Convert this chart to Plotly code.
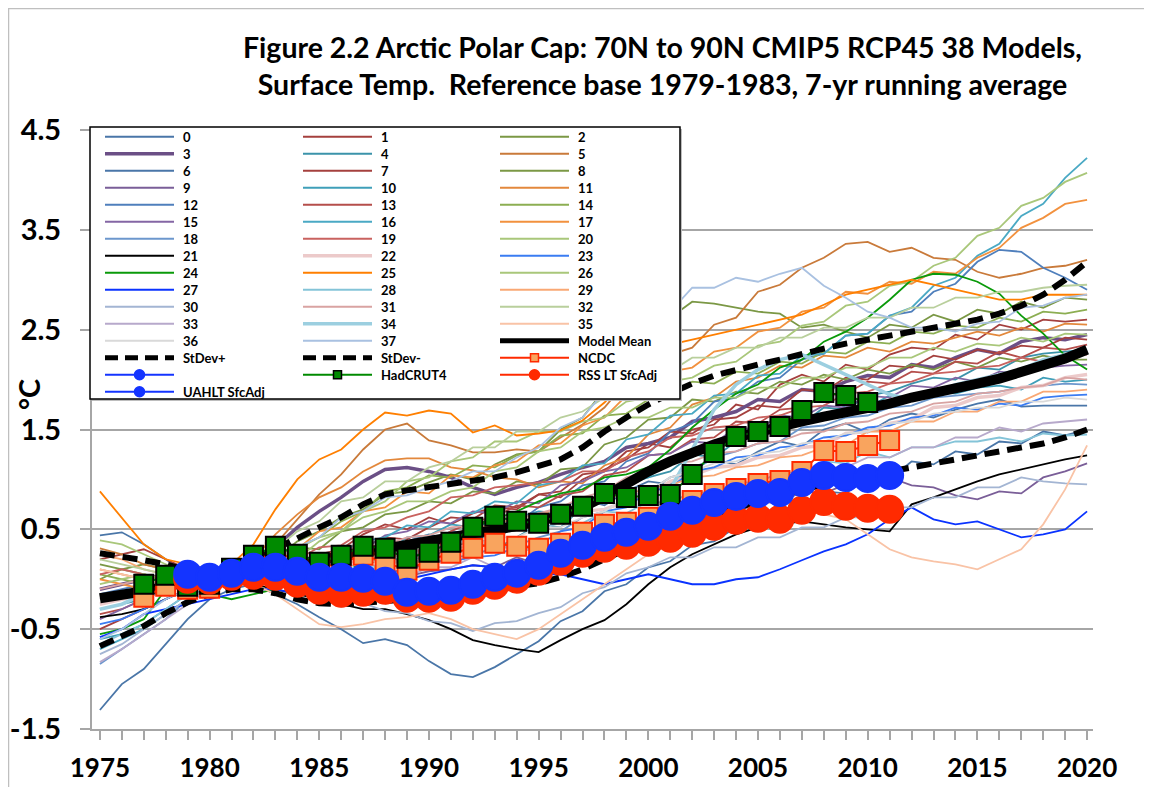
import plotly.graph_objects as go

years = list(range(1975, 2021))

model_names = [str(i) for i in range(38)]
model_colors = [
    '#4a76a8', '#a5403e', '#7b9845', '#6b4f86', '#3b93aa', '#c97a3a',
    '#4a76a8', '#a5403e', '#7b9845', '#7a5e98', '#3f9fb9', '#e3883c',
    '#4f7fbc', '#b54e4b', '#8cae52', '#8466a4', '#4aa9c4', '#f2913e',
    '#6c97cd', '#c9625f', '#a9c77a', '#000000', '#eccaca', '#3a7cf2',
    '#0a9a0a', '#ff7f00', '#a9c77a', '#0a33ff', '#84c4d8', '#f9a874',
    '#a3b5d3', '#d9a3a2', '#b9cf9c', '#b7a9cb', '#9ccfe0', '#f9c3a6',
    '#d9d9d9', '#a9c1e1']
thick_models = [3, 22, 34]

model_00 = [0.44, 0.47, 0.35, 0.2, 0.05, 0.0, -0.05, 0.02, 0.08, 0.12,
            0.1, 0.22, 0.33, 0.25, 0.38, 0.45, 0.4, 0.36, 0.52, 0.6,
            0.55, 0.72, 0.8, 0.74, 0.88, 0.98, 0.95, 1.12, 1.2, 1.15,
            1.28, 1.38, 1.33, 1.5, 1.56, 1.47, 1.6, 1.66, 1.62, 1.7,
            1.76, 1.8, 1.73, 1.74, 1.74, 1.74]
model_01 = [0.2, 0.25, 0.3, 0.2, 0.1, 0.05, 0.0, -0.05, 0.02, 0.15,
            0.25, 0.3, 0.45, 0.55, 0.5, 0.62, 0.55, 0.66, 0.72, 0.7,
            0.85, 0.82, 1.0, 1.1, 1.2, 1.36, 1.32, 1.5, 1.55, 1.75,
            1.7, 1.95, 2.05, 1.98, 2.15, 2.1, 2.25, 2.32, 2.3, 2.45,
            2.4, 2.55, 2.5, 2.6, 2.58, 2.6]
model_02 = [0.0, 0.1, 0.15, 0.1, 0.05, 0.0, -0.05, 0.05, 0.2, 0.38,
            0.48, 0.62, 0.7, 0.85, 0.88, 0.97, 1.05, 1.0, 1.15, 1.25,
            1.28, 1.5, 1.62, 1.9, 2.15, 2.4, 2.62, 2.78, 2.76, 2.72,
            2.68, 2.66, 2.52, 2.55, 2.48, 2.42, 2.55, 2.52, 2.65, 2.58,
            2.7, 2.66, 2.78, 2.72, 2.82, 2.8]
model_03 = [-0.1, -0.05, 0.0, 0.05, 0.05, 0.0, 0.0, 0.12, 0.32, 0.52,
            0.68, 0.82, 0.98, 1.1, 1.12, 1.08, 1.02, 0.92, 0.85, 0.92,
            0.97, 1.05, 1.12, 1.18, 1.32, 1.36, 1.42, 1.58, 1.62, 1.68,
            1.8, 1.78, 1.9, 1.88, 1.98, 2.04, 2.02, 2.15, 2.12, 2.22,
            2.3, 2.26, 2.38, 2.42, 2.4, 2.45]
model_04 = [-0.3, -0.25, -0.2, -0.1, -0.05, 0.0, 0.05, 0.0, -0.05, 0.02,
            0.08, 0.12, 0.05, 0.18, 0.22, 0.2, 0.33, 0.38, 0.3, 0.42,
            0.55, 0.52, 0.72, 0.78, 0.95, 1.02, 1.08, 1.25, 1.22, 1.38,
            1.45, 1.58, 1.55, 1.72, 1.7, 1.84, 1.88, 1.96, 2.02, 2.0,
            2.12, 2.1, 2.22, 2.26, 2.28, 2.3]
model_05 = [0.31, 0.25, 0.15, 0.1, 0.05, 0.0, 0.0, 0.1, 0.35, 0.6,
            0.85, 1.05, 1.3, 1.5, 1.56, 1.39, 1.34, 1.27, 1.27, 1.3,
            1.28, 1.42, 1.55, 1.72, 1.98, 2.08, 2.25, 2.32, 2.55, 2.62,
            2.88, 2.95, 3.12, 3.22, 3.36, 3.38, 3.28, 3.32, 3.22, 3.2,
            3.08, 3.02, 3.06, 3.12, 3.14, 3.2]
model_06 = [-1.31, -1.05, -0.9, -0.65, -0.4, -0.2, -0.1, -0.05, -0.15, -0.25,
            -0.38, -0.5, -0.64, -0.6, -0.66, -0.82, -0.95, -0.98, -0.88, -0.75,
            -0.62, -0.42, -0.32, -0.12, -0.05, 0.12, 0.18, 0.34, 0.38, 0.52,
            0.58, 0.72, 0.7, 0.88, 0.86, 1.02, 1.0, 1.18, 1.15, 1.28,
            1.25, 1.38, 1.36, 1.48, 1.44, 1.5]
model_07 = [-0.5, -0.4, -0.3, -0.2, -0.1, -0.05, 0.0, 0.05, 0.1, 0.18,
            0.15, 0.28, 0.32, 0.42, 0.4, 0.52, 0.62, 0.6, 0.74, 0.72,
            0.85, 0.88, 1.05, 1.08, 1.28, 1.32, 1.48, 1.46, 1.6, 1.62,
            1.74, 1.72, 1.9, 1.88, 2.02, 2.0, 2.14, 2.12, 2.24, 2.2,
            2.3, 2.26, 2.34, 2.32, 2.42, 2.4]
model_08 = [0.15, 0.1, 0.05, 0.0, -0.05, 0.0, 0.05, 0.15, 0.25, 0.32,
            0.3, 0.48, 0.52, 0.65, 0.68, 0.78, 0.76, 0.88, 0.86, 0.98,
            0.95, 1.1, 1.12, 1.35, 1.42, 1.6, 1.62, 1.8, 1.78, 1.88,
            1.86, 1.98, 1.95, 2.05, 2.0, 2.1, 2.06, 2.15, 2.1, 2.18,
            2.12, 2.22, 2.18, 2.24, 2.2, 2.2]
model_09 = [-0.2, -0.15, -0.1, -0.05, 0.0, 0.0, 0.05, 0.05, 0.0, -0.05,
            -0.12, -0.16, -0.08, -0.05, 0.03, 0.08, 0.1, 0.14, 0.12, 0.22,
            0.15, 0.08, 0.18, 0.22, 0.38, 0.42, 0.55, 0.58, 0.68, 0.66,
            0.78, 0.76, 0.88, 0.86, 0.95, 0.92, 1.02, 0.94, 0.92, 0.84,
            0.8, 0.88, 0.86, 1.02, 1.08, 1.16]
model_10 = [-0.6, -0.55, -0.45, -0.3, -0.15, -0.05, 0.0, 0.05, 0.0, 0.08,
            0.12, 0.2, 0.28, 0.26, 0.42, 0.44, 0.55, 0.52, 0.58, 0.62,
            0.68, 0.66, 0.8, 0.82, 1.0, 1.02, 1.2, 1.22, 1.38, 1.42,
            1.55, 1.52, 1.64, 1.62, 1.74, 1.72, 1.84, 1.8, 1.88, 1.86,
            1.92, 1.94, 1.9, 2.02, 1.98, 2.0]
model_11 = [0.1, 0.05, 0.0, -0.05, -0.05, 0.0, 0.05, 0.2, 0.45, 0.65,
            0.82, 0.92, 1.08, 1.19, 1.21, 1.21, 1.12, 1.09, 1.02, 1.0,
            0.92, 0.98, 0.96, 1.14, 1.22, 1.45, 1.52, 1.75, 1.82, 1.98,
            2.02, 2.14, 2.12, 2.24, 2.22, 2.32, 2.28, 2.38, 2.36, 2.42,
            2.48, 2.44, 2.52, 2.48, 2.56, 2.55]
model_12 = [-0.15, -0.1, -0.05, 0.0, 0.0, 0.05, 0.0, -0.05, 0.0, 0.06,
            0.12, 0.14, 0.24, 0.28, 0.38, 0.36, 0.48, 0.46, 0.58, 0.56,
            0.72, 0.78, 0.94, 0.98, 1.18, 1.26, 1.48, 1.56, 1.78, 1.82,
            1.98, 2.02, 2.2, 2.26, 2.44, 2.46, 2.64, 2.68, 2.88, 2.96,
            3.18, 3.3, 3.28, 3.12, 3.02, 2.9]
model_13 = [-0.35, -0.3, -0.2, -0.1, -0.05, 0.0, 0.05, 0.1, 0.05, 0.12,
            0.18, 0.16, 0.28, 0.26, 0.38, 0.36, 0.48, 0.58, 0.62, 0.74,
            0.72, 0.84, 0.88, 1.04, 1.08, 1.24, 1.26, 1.4, 1.42, 1.58,
            1.56, 1.7, 1.72, 1.84, 1.86, 1.98, 1.96, 2.08, 2.06, 2.18,
            2.16, 2.28, 2.22, 2.32, 2.3, 2.35]
model_14 = [0.05, 0.0, -0.05, 0.0, 0.05, 0.05, 0.0, 0.05, 0.15, 0.32,
            0.42, 0.58, 0.68, 0.88, 0.92, 1.04, 1.02, 1.14, 1.12, 1.24,
            1.28, 1.44, 1.46, 1.64, 1.66, 1.8, 1.82, 1.98, 1.96, 2.08,
            2.06, 2.18, 2.16, 2.28, 2.26, 2.38, 2.36, 2.48, 2.46, 2.54,
            2.52, 2.62, 2.58, 2.68, 2.66, 2.7]
model_15 = [-0.4, -0.3, -0.2, -0.1, 0.0, 0.05, 0.0, -0.05, 0.02, 0.12,
            0.18, 0.32, 0.3, 0.44, 0.48, 0.58, 0.56, 0.68, 0.66, 0.78,
            0.76, 0.94, 0.98, 1.08, 1.12, 1.24, 1.26, 1.38, 1.36, 1.52,
            1.5, 1.64, 1.62, 1.74, 1.72, 1.84, 1.82, 1.94, 1.92, 2.02,
            1.98, 2.08, 2.06, 2.12, 2.14, 2.15]
model_16 = [-0.7, -0.6, -0.5, -0.35, -0.2, -0.05, 0.05, 0.0, 0.05, 0.15,
            0.22, 0.28, 0.38, 0.42, 0.54, 0.52, 0.68, 0.66, 0.78, 0.76,
            0.94, 0.98, 1.14, 1.16, 1.4, 1.45, 1.64, 1.66, 1.84, 1.86,
            2.04, 2.06, 2.24, 2.26, 2.44, 2.46, 2.64, 2.72, 2.94, 3.02,
            3.24, 3.36, 3.64, 3.76, 4.02, 4.22]
model_17 = [0.0, -0.05, -0.1, -0.05, 0.0, 0.05, 0.05, 0.1, 0.22, 0.3,
            0.48, 0.52, 0.68, 0.72, 0.88, 0.86, 1.04, 1.02, 1.14, 1.18,
            1.34, 1.36, 1.54, 1.62, 1.84, 1.92, 2.08, 2.12, 2.28, 2.32,
            2.48, 2.52, 2.68, 2.72, 2.88, 2.86, 2.98, 2.96, 3.08, 3.06,
            3.22, 3.32, 3.52, 3.62, 3.76, 3.8]
model_18 = [-0.85, -0.7, -0.55, -0.4, -0.2, -0.1, 0.0, 0.05, 0.1, 0.05,
            0.02, -0.06, 0.02, 0.04, 0.12, 0.14, 0.22, 0.24, 0.32, 0.34,
            0.42, 0.48, 0.62, 0.68, 0.82, 0.88, 1.02, 1.08, 1.22, 1.28,
            1.36, 1.38, 1.52, 1.54, 1.62, 1.64, 1.72, 1.74, 1.82, 1.84,
            1.86, 1.88, 1.92, 1.94, 1.96, 1.95]
model_19 = [0.05, 0.1, 0.05, 0.0, -0.05, 0.0, 0.05, 0.05, 0.12, 0.2,
            0.32, 0.34, 0.48, 0.52, 0.62, 0.68, 0.82, 0.84, 0.92, 0.94,
            0.97, 0.98, 1.08, 1.08, 1.22, 1.28, 1.42, 1.44, 1.52, 1.54,
            1.62, 1.64, 1.72, 1.74, 1.86, 1.88, 1.96, 1.98, 2.06, 2.08,
            2.12, 2.14, 2.22, 2.18, 2.26, 2.25]
model_20 = [0.39, 0.35, 0.25, 0.15, 0.05, 0.0, -0.05, 0.0, 0.12, 0.2,
            0.38, 0.48, 0.68, 0.78, 0.98, 1.02, 1.18, 1.22, 1.38, 1.38,
            1.48, 1.48, 1.58, 1.62, 1.78, 1.82, 1.98, 2.02, 2.14, 2.18,
            2.34, 2.38, 2.54, 2.58, 2.74, 2.78, 2.94, 2.98, 3.14, 3.22,
            3.44, 3.52, 3.74, 3.82, 3.98, 4.07]
model_21 = [-0.38, -0.35, -0.3, -0.2, -0.1, -0.05, 0.0, -0.05, -0.1, -0.15,
            -0.2, -0.25, -0.3, -0.3, -0.35, -0.41, -0.5, -0.61, -0.66, -0.7,
            -0.73, -0.61, -0.5, -0.41, -0.25, -0.05, 0.12, 0.25, 0.35, 0.45,
            0.52, 0.55, 0.58, 0.55, 0.52, 0.5, 0.48, 0.75, 0.82, 0.9,
            0.98, 1.05, 1.1, 1.15, 1.2, 1.24]
model_22 = [-0.25, -0.2, -0.15, -0.1, -0.05, 0.0, 0.0, 0.05, 0.05, 0.1,
            0.12, 0.14, 0.22, 0.2, 0.28, 0.3, 0.38, 0.4, 0.48, 0.5,
            0.58, 0.6, 0.68, 0.7, 0.78, 0.84, 0.98, 1.04, 1.12, 1.14,
            1.22, 1.24, 1.32, 1.34, 1.46, 1.48, 1.56, 1.6, 1.72, 1.74,
            1.82, 1.84, 1.92, 1.94, 2.02, 2.05]
model_23 = [-0.45, -0.4, -0.3, -0.2, -0.1, 0.0, 0.0, 0.05, 0.0, -0.05,
            -0.08, 0.02, 0.04, 0.08, 0.08, 0.18, 0.18, 0.22, 0.24, 0.32,
            0.34, 0.48, 0.52, 0.68, 0.72, 0.88, 0.92, 1.08, 1.12, 1.22,
            1.24, 1.32, 1.34, 1.42, 1.44, 1.52, 1.54, 1.62, 1.64, 1.72,
            1.7, 1.76, 1.74, 1.82, 1.84, 1.85]
model_24 = [-0.55, -0.5, -0.4, -0.1, -0.05, -0.15, -0.2, -0.15, -0.1, -0.02,
            0.05, 0.12, 0.14, 0.22, 0.28, 0.36, 0.4, 0.52, 0.6, 0.68,
            0.78, 0.86, 0.9, 1.02, 1.05, 1.12, 1.3, 1.52, 1.7, 1.86,
            1.95, 2.12, 2.2, 2.38, 2.48, 2.62, 2.8, 3.0, 3.06, 3.05,
            2.98, 2.86, 2.64, 2.46, 2.24, 2.1]
model_25 = [0.88, 0.62, 0.35, 0.2, 0.15, 0.1, 0.15, 0.35, 0.7, 1.0,
            1.2, 1.3, 1.5, 1.67, 1.64, 1.69, 1.66, 1.47, 1.54, 1.44,
            1.46, 1.49, 1.59, 1.77, 2.0, 2.2, 2.35, 2.4, 2.45, 2.5,
            2.55, 2.6, 2.65, 2.75, 2.85, 2.9, 2.95, 3.0, 2.95, 2.9,
            2.85, 2.8, 2.8, 2.85, 2.85, 2.85]
model_26 = [-0.05, 0.0, 0.05, 0.0, -0.05, 0.0, 0.05, 0.1, 0.22, 0.3,
            0.42, 0.48, 0.62, 0.68, 0.78, 0.78, 0.88, 0.92, 1.08, 1.12,
            1.28, 1.32, 1.48, 1.52, 1.62, 1.62, 1.72, 1.72, 1.82, 1.82,
            1.92, 1.92, 2.02, 2.02, 2.12, 2.12, 2.22, 2.22, 2.32, 2.28,
            2.36, 2.34, 2.42, 2.38, 2.46, 2.45]
model_27 = [-0.58, -0.5, -0.35, -0.3, -0.25, -0.2, -0.15, -0.1, -0.1, -0.15,
            -0.12, -0.08, -0.05, -0.05, 0.0, 0.05, 0.1, 0.14, 0.12, 0.1,
            0.05, 0.05, 0.0, -0.05, 0.0, 0.05, 0.0, -0.05, -0.05, 0.0,
            0.02, 0.1, 0.19, 0.28, 0.35, 0.45, 0.6, 0.72, 0.6, 0.55,
            0.58, 0.5, 0.42, 0.45, 0.5, 0.68]
model_28 = [-0.65, -0.55, -0.45, -0.3, -0.15, -0.05, 0.0, 0.05, 0.1, 0.05,
            -0.02, 0.08, 0.08, 0.18, 0.18, 0.32, 0.32, 0.42, 0.42, 0.52,
            0.48, 0.58, 0.56, 0.68, 0.66, 0.78, 0.76, 0.88, 0.86, 0.98,
            0.96, 1.08, 1.06, 1.18, 1.16, 1.28, 1.22, 1.32, 1.32, 1.38,
            1.38, 1.42, 1.38, 1.46, 1.44, 1.45]
model_29 = [0.25, 0.2, 0.1, 0.05, 0.0, -0.05, 0.0, 0.05, 0.1, 0.12,
            0.14, 0.22, 0.24, 0.32, 0.34, 0.42, 0.44, 0.52, 0.54, 0.62,
            0.64, 0.72, 0.74, 0.82, 0.84, 0.92, 0.94, 1.02, 1.04, 1.12,
            1.14, 1.22, 1.24, 1.32, 1.34, 1.48, 1.48, 1.58, 1.58, 1.68,
            1.68, 1.78, 1.78, 1.88, 1.88, 1.9]
model_30 = [-0.75, -0.65, -0.5, -0.35, -0.2, -0.1, 0.0, 0.0, -0.05, -0.12,
            -0.14, -0.22, -0.24, -0.32, -0.34, -0.42, -0.44, -0.52, -0.44, -0.42,
            -0.34, -0.28, -0.14, -0.08, 0.06, 0.12, 0.22, 0.22, 0.32, 0.32,
            0.42, 0.42, 0.52, 0.52, 0.62, 0.62, 0.72, 0.72, 0.82, 0.82,
            0.92, 0.92, 1.02, 0.98, 0.96, 0.95]
model_31 = [-0.1, -0.05, 0.0, 0.0, 0.05, 0.0, -0.05, 0.0, 0.06, 0.1,
            0.16, 0.22, 0.32, 0.34, 0.42, 0.44, 0.52, 0.54, 0.62, 0.6,
            0.66, 0.72, 0.82, 0.88, 1.02, 1.08, 1.16, 1.18, 1.26, 1.28,
            1.36, 1.38, 1.46, 1.48, 1.56, 1.58, 1.66, 1.68, 1.76, 1.78,
            1.86, 1.88, 1.92, 1.94, 2.02, 2.0]
model_32 = [0.2, 0.15, 0.1, 0.05, 0.0, 0.0, 0.05, 0.15, 0.3, 0.48,
            0.58, 0.78, 0.82, 0.98, 0.98, 1.12, 1.18, 1.32, 1.32, 1.48,
            1.48, 1.62, 1.68, 1.82, 1.88, 2.02, 2.08, 2.22, 2.22, 2.32,
            2.32, 2.42, 2.42, 2.52, 2.52, 2.62, 2.62, 2.72, 2.72, 2.82,
            2.82, 2.88, 2.88, 2.92, 2.94, 2.95]
model_33 = [-0.83, -0.7, -0.55, -0.4, -0.25, -0.1, 0.0, 0.05, 0.0, -0.05,
            -0.12, -0.08, -0.08, 0.02, 0.02, 0.12, 0.12, 0.22, 0.12, 0.12,
            0.12, 0.28, 0.32, 0.48, 0.52, 0.68, 0.68, 0.82, 0.82, 0.92,
            0.92, 1.02, 1.02, 1.12, 1.12, 1.22, 1.22, 1.32, 1.32, 1.42,
            1.42, 1.52, 1.48, 1.56, 1.58, 1.6]
model_34 = [-0.3, -0.25, -0.15, -0.1, -0.05, 0.0, 0.05, 0.0, -0.05, 0.0,
            0.05, 0.1, 0.1, 0.15, 0.2, 0.25, 0.35, 0.4, 0.35, 0.3,
            0.3, 0.35, 0.4, 0.45, 0.5, 0.55, 0.9, 1.3, 1.7, 1.95,
            2.1, 2.2, 2.25, 2.15, 2.05, 1.95, 1.85, 1.8, 1.85, 1.95,
            2.0, 2.05, 2.1, 2.2, 2.25, 2.3]
model_35 = [0.1, 0.05, 0.0, -0.05, -0.05, 0.0, 0.0, -0.05, -0.15, -0.3,
            -0.45, -0.48, -0.45, -0.4, -0.38, -0.34, -0.4, -0.5, -0.55, -0.6,
            -0.5, -0.35, -0.2, -0.05, 0.1, 0.25, 0.35, 0.45, 0.5, 0.55,
            0.6, 0.65, 0.7, 0.65, 0.6, 0.45, 0.3, 0.22, 0.18, 0.15,
            0.1, 0.2, 0.3, 0.55, 0.9, 1.34]
model_36 = [-0.2, -0.15, -0.1, -0.05, 0.0, 0.0, 0.05, 0.0, 0.05, 0.05,
            0.12, 0.08, 0.18, 0.18, 0.28, 0.28, 0.32, 0.32, 0.42, 0.42,
            0.52, 0.52, 0.62, 0.68, 0.82, 0.88, 1.02, 1.08, 1.16, 1.18,
            1.26, 1.28, 1.36, 1.38, 1.46, 1.48, 1.56, 1.58, 1.66, 1.68,
            1.72, 1.72, 1.78, 1.78, 1.82, 1.8]
model_37 = [-0.6, -0.5, -0.35, -0.2, -0.1, 0.0, 0.05, 0.1, 0.2, 0.32,
            0.42, 0.62, 0.68, 0.82, 0.84, 0.92, 0.98, 1.08, 1.08, 1.22,
            1.32, 1.52, 1.62, 1.88, 2.08, 2.42, 2.68, 2.92, 2.92, 3.02,
            2.98, 3.06, 3.12, 2.94, 2.82, 2.68, 2.62, 2.52, 2.52, 2.48,
            2.56, 2.58, 2.72, 2.74, 2.82, 2.85]

models = [model_00, model_01, model_02, model_03, model_04, model_05, model_06,
          model_07, model_08, model_09, model_10, model_11, model_12, model_13,
          model_14, model_15, model_16, model_17, model_18, model_19, model_20,
          model_21, model_22, model_23, model_24, model_25, model_26, model_27,
          model_28, model_29, model_30, model_31, model_32, model_33, model_34,
          model_35, model_36, model_37]

model_mean = [-0.19, -0.16, -0.12, -0.07, -0.02, 0.01, 0.04, 0.08, 0.12, 0.16,
              0.19, 0.23, 0.27, 0.31, 0.35, 0.38, 0.42, 0.46, 0.49, 0.53,
              0.58, 0.64, 0.72, 0.83, 0.96, 1.08, 1.18, 1.27, 1.35, 1.42,
              1.48, 1.53, 1.58, 1.63, 1.67, 1.70, 1.76, 1.82, 1.86, 1.91,
              1.96, 2.01, 2.07, 2.13, 2.21, 2.30]
stdev_plus = [0.26, 0.23, 0.19, 0.15, 0.09, 0.05, 0.1, 0.2, 0.3, 0.41,
              0.52, 0.62, 0.75, 0.85, 0.89, 0.92, 0.95, 0.98, 1.02, 1.07,
              1.13, 1.2, 1.32, 1.48, 1.62, 1.75, 1.86, 1.96, 2.04, 2.1,
              2.15, 2.2, 2.26, 2.31, 2.36, 2.4, 2.44, 2.48, 2.51, 2.55,
              2.6, 2.66, 2.74, 2.85, 3.0, 3.18]
stdev_minus = [-0.67, -0.57, -0.47, -0.34, -0.23, -0.15, -0.1, -0.1, -0.14, -0.2,
               -0.24, -0.25, -0.24, -0.22, -0.2, -0.18, -0.16, -0.13, -0.1, -0.07,
               -0.04, 0.02, 0.1, 0.2, 0.3, 0.4, 0.5, 0.58, 0.65, 0.72,
               0.78, 0.84, 0.9, 0.95, 1.0, 1.04, 1.08, 1.12, 1.16, 1.2,
               1.24, 1.28, 1.32, 1.36, 1.42, 1.5]

hadcrut_years = list(range(1977, 2011))
hadcrut4 = [-0.05, 0.04, -0.07, -0.05, 0.11, 0.24, 0.33, 0.25, 0.17, 0.24,
            0.33, 0.31, 0.21, 0.27, 0.37, 0.52, 0.63, 0.58, 0.56, 0.65,
            0.73, 0.86, 0.82, 0.84, 0.85, 1.05, 1.27, 1.43, 1.48, 1.53,
            1.69, 1.87, 1.84, 1.77]
ncdc_years = list(range(1977, 2012))
ncdc = [-0.18, -0.07, -0.1, -0.09, 0.04, 0.18, 0.27, 0.19, 0.11, 0.17,
        0.24, 0.17, 0.09, 0.19, 0.26, 0.31, 0.36, 0.33, 0.31, 0.36,
        0.47, 0.55, 0.57, 0.62, 0.68, 0.79, 0.86, 0.91, 0.96, 0.99,
        1.08, 1.29, 1.28, 1.34, 1.39]
sat_years = list(range(1979, 2012))
rss_lt = [0.0, -0.01, 0.03, 0.04, 0.03, -0.04, -0.11, -0.14, -0.13, -0.11,
          -0.19, -0.19, -0.18, -0.11, -0.06, 0.0, 0.08, 0.18, 0.26, 0.31,
          0.34, 0.37, 0.41, 0.46, 0.53, 0.59, 0.61, 0.60, 0.69, 0.78,
          0.73, 0.71, 0.70]
uah_lt = [0.05, 0.02, 0.06, 0.12, 0.12, 0.08, 0.02, 0.02, 0.01, -0.02,
          -0.13, -0.12, -0.11, -0.05, 0.02, 0.06, 0.14, 0.26, 0.34, 0.42,
          0.47, 0.53, 0.63, 0.69, 0.77, 0.83, 0.86, 0.87, 0.97, 1.04,
          1.02, 1.01, 1.04]

y_ticks = [-1.5, -0.5, 0.5, 1.5, 2.5, 3.5, 4.5]
y_tick_text = ['-1.5', '-0.5', '0.5', '1.5', '2.5', '3.5', '4.5']
x_label_years = [1975, 1980, 1985, 1990, 1995, 2000, 2005, 2010, 2015, 2020]

title_text = ('Figure 2.2 Arctic Polar Cap: 70N to 90N CMIP5 RCP45 38 Models,<br>'
              'Surface Temp.  Reference base 1979-1983, 7-yr running average')

# ---------------- figure geometry ----------------
# The html page has an 8px body margin, so the figure is 8px smaller and
# all screen positions below are converted relative to the plot area.
W, H = 1144, 779
L, R, T, B = 84, 59, 122, 58
PW, PH = W - L - R, H - T - B        # 1001 x 599
SCR_LEFT, SCR_BOTTOM = 92, 729       # plot area on screen
FONT = 'Lato, Open Sans, Arial, sans-serif'
GRID = '#a6a6a6'


def px(xs):
    return (xs - SCR_LEFT) / PW


def py(ys):
    return (SCR_BOTTOM - ys) / PH


fig = go.Figure()

for i, vals in enumerate(models):
    fig.add_trace(go.Scatter(
        x=years, y=vals, mode='lines', name=model_names[i],
        line=dict(color=model_colors[i], width=3.5 if i in thick_models else 1.8),
        showlegend=False))

DASH = '15px,8px'
fig.add_trace(go.Scatter(x=years, y=stdev_plus, mode='lines', name='StDev+',
                         line=dict(color='black', width=6, dash=DASH), showlegend=False))
fig.add_trace(go.Scatter(x=years, y=stdev_minus, mode='lines', name='StDev-',
                         line=dict(color='black', width=6, dash=DASH), showlegend=False))
fig.add_trace(go.Scatter(x=years, y=model_mean, mode='lines', name='Model Mean',
                         line=dict(color='black', width=10), showlegend=False))

obs_styles = {
    'NCDC': dict(line='#ff2a00', fill='#f9a45e', border='#ff2a00', symbol='square', size=19),
    'HadCRUT4': dict(line='#008a00', fill='#008a00', border='#000000', symbol='square', size=19),
    'RSS LT SfcAdj': dict(line='#ff2a00', fill='#ff2a00', border='#ff2a00', symbol='circle', size=27),
    'UAHLT SfcAdj': dict(line='#1434ff', fill='#1434ff', border='#1434ff', symbol='circle', size=27),
}
for name, xs, ys in [('NCDC', ncdc_years, ncdc), ('HadCRUT4', hadcrut_years, hadcrut4),
                     ('RSS LT SfcAdj', sat_years, rss_lt), ('UAHLT SfcAdj', sat_years, uah_lt)]:
    s = obs_styles[name]
    fig.add_trace(go.Scatter(
        x=xs, y=ys, mode='lines+markers', name=name,
        line=dict(color=s['line'], width=2),
        marker=dict(symbol=s['symbol'], size=s['size'], color=s['fill'],
                    line=dict(color=s['border'], width=2)),
        showlegend=False))

# ---------------- custom legend (3 columns, row-major like the original) -------------
entries = []
for i in range(38):
    entries.append(dict(name=model_names[i], color=model_colors[i],
                        width=3.5 if i in thick_models else 2, dash=None, marker=None))
entries.append(dict(name='Model Mean', color='black', width=5, dash=None, marker=None))
entries.append(dict(name='StDev+', color='black', width=5, dash='13px,7px', marker=None))
entries.append(dict(name='StDev-', color='black', width=5, dash='13px,7px', marker=None))
entries.append(dict(name='NCDC', color='#ff2a00', width=2, dash=None, marker='NCDC'))
entries.append(dict(name='', color='#1434ff', width=2, dash=None, marker='UAHLT SfcAdj'))
entries.append(dict(name='HadCRUT4', color='#008a00', width=2, dash=None, marker='HadCRUT4'))
entries.append(dict(name='RSS LT SfcAdj', color='#ff2a00', width=2, dash=None, marker='RSS LT SfcAdj'))
entries.append(dict(name='UAHLT SfcAdj', color='#1434ff', width=2, dash=None, marker='UAHLT SfcAdj'))

shapes = []
annotations = []
# legend frame with slight shadow
shapes.append(dict(type='rect', xref='paper', yref='paper', x0=px(92), x1=px(682),
                   y0=py(401), y1=py(129), fillcolor='#bdbdbd', line=dict(width=0), layer='above'))
shapes.append(dict(type='rect', xref='paper', yref='paper', x0=px(90), x1=px(680),
                   y0=py(399), y1=py(127), fillcolor='white', line=dict(color='black', width=1.5),
                   layer='above'))

col_x = [105, 303, 500]
for k, e in enumerate(entries):
    col, row = k % 3, k // 3
    x0 = col_x[col]
    yc = 136.7 + row * 17.0
    ln = dict(color=e['color'], width=e['width'])
    if e['dash']:
        ln['dash'] = e['dash']
    shapes.append(dict(type='line', xref='paper', yref='paper', x0=px(x0), x1=px(x0 + 69),
                       y0=py(yc), y1=py(yc), line=ln, layer='above'))
    if e['marker']:
        s = obs_styles[e['marker']]
        r = 4 if s['symbol'] == 'square' else 5
        shapes.append(dict(type='rect' if s['symbol'] == 'square' else 'circle',
                           xref='paper', yref='paper', xsizemode='pixel', ysizemode='pixel',
                           xanchor=px(x0 + 34.5), yanchor=py(yc), x0=-r, x1=r, y0=-r, y1=r,
                           fillcolor=s['fill'], line=dict(color=s['border'], width=1.5),
                           layer='above'))
    if e['name']:
        annotations.append(dict(text=e['name'], xref='paper', yref='paper', x=px(x0 + 76), y=py(yc),
                                xanchor='left', yanchor='middle', showarrow=False,
                                font=dict(family=FONT, size=13, color='black', weight='bold')))

# outer frame of the chart
shapes.append(dict(type='rect', xref='paper', yref='paper', x0=px(8.5), x1=px(1170),
                   y0=py(800), y1=py(8.5), line=dict(color='#bfbfbf', width=1.5), layer='below'))

annotations.append(dict(text=title_text, xref='paper', yref='paper', x=px(662), y=py(28),
                        xanchor='center', yanchor='top', showarrow=False, align='center',
                        font=dict(family=FONT, size=28.5, color='black', weight='bold')))
annotations.append(dict(text='°C', xref='paper', yref='paper', x=px(28), y=py(395),
                        xanchor='center', yanchor='middle', showarrow=False, textangle=-90,
                        font=dict(family=FONT, size=29, color='black', weight='bold')))

fig.update_layout(
    width=W, height=H,
    margin=dict(l=L, r=R, t=T, b=B, autoexpand=False),
    paper_bgcolor='white', plot_bgcolor='white',
    showlegend=False,
    shapes=shapes, annotations=annotations,
    font=dict(family=FONT, color='black'),
)
fig.update_xaxes(
    range=[1974.64, 2020.27], tickvals=years,
    ticktext=[str(y) if y in x_label_years else '' for y in years],
    ticks='outside', ticklen=9, tickwidth=1.5, tickcolor=GRID,
    showgrid=False, zeroline=False, showline=True, linecolor=GRID, linewidth=2,
    tickfont=dict(family=FONT, size=26, color='black', weight='bold'),
    ticklabelstandoff=6,
)
fig.update_yaxes(
    range=[-1.5, 4.5], tickvals=y_ticks, ticktext=y_tick_text,
    ticks='outside', ticklen=10, tickwidth=1.5, tickcolor=GRID,
    showgrid=True, gridcolor=GRID, gridwidth=2, zeroline=False,
    showline=True, linecolor=GRID, linewidth=2,
    tickfont=dict(family=FONT, size=29, color='black', weight='bold'),
    ticklabelstandoff=13,
)

fig.write_html('out.html')
